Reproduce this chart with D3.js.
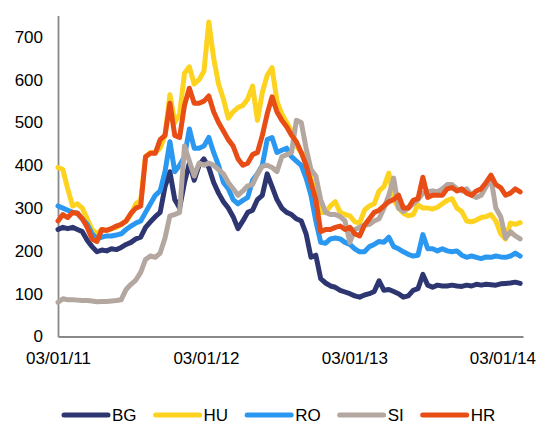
<!DOCTYPE html>
<html>
<head>
<meta charset="utf-8">
<script src="https://cdn.jsdelivr.net/npm/d3@7"></script>
<style>
  body { margin: 0; background: #fff; }
  svg { display: block; font-family: "Liberation Sans", Arial, sans-serif; }
</style>
</head>
<body>
<div id="chart"></div>
<script>
// series names + colours
const seriesNames = ["BG", "HU", "RO", "SI", "HR"];
const seriesColors = ["#2e3672", "#fdd320", "#2a97f1", "#b3a7a0", "#e84d16"];

// one reading every 12 days from 03/01/11
const startDate = new Date(2011, 0, 3);
const stepDays = 12;

const BG = [250,255,252,255,250,245,225,210,198,202,200,205,203,208,215,220,228,232,255,268,
  280,290,350,385,320,300,360,405,365,400,415,395,360,335,315,300,280,252,270,290,
  295,320,330,380,350,320,300,290,285,275,270,240,185,190,135,125,118,115,108,104,
  100,95,92,97,100,105,130,108,110,105,100,92,95,108,112,145,120,115,120,118,
  118,120,118,117,120,118,122,120,122,121,120,123,124,125,127,124];
const HU = [395,390,345,305,310,300,275,250,240,250,248,252,255,262,270,285,310,318,420,430,
  430,440,470,565,500,520,615,630,590,600,620,735,650,590,555,510,525,535,540,555,
  585,505,570,610,628,550,520,500,480,445,430,420,370,330,290,290,305,315,290,285,
  282,268,265,295,305,310,340,350,382,320,300,288,282,285,308,300,300,298,302,310,
  318,322,300,292,270,268,272,278,280,285,270,240,228,265,262,266];
const RO = [305,300,295,290,288,275,262,240,228,232,235,235,237,240,250,258,265,270,290,310,
  330,340,385,455,385,400,420,485,440,440,445,465,430,400,360,345,320,310,318,325,
  365,380,400,460,465,430,435,440,420,410,400,370,330,270,220,218,228,230,228,220,
  215,205,198,198,210,215,222,220,232,210,205,198,192,188,190,238,205,205,200,205,
  200,198,200,190,185,188,185,182,186,185,188,186,185,188,195,188];
const SI = [80,88,86,86,85,84,84,83,81,82,82,83,84,86,110,122,132,150,180,188,
  185,195,230,282,285,290,445,410,375,405,400,405,400,390,380,360,345,330,340,352,
  355,380,398,400,395,385,420,425,430,505,500,440,390,375,320,290,285,285,280,270,
  220,250,255,260,262,270,275,300,330,370,300,292,300,310,320,335,338,340,338,345,
  355,355,345,340,345,330,325,330,350,370,300,280,230,245,235,228];
const HR = [270,285,278,290,288,275,255,228,222,250,248,252,258,262,270,288,300,305,420,428,
  428,460,470,545,470,465,540,580,545,545,550,562,525,500,480,460,445,415,400,405,
  425,430,470,520,560,525,505,490,470,455,430,400,360,320,245,250,250,255,258,250,
  255,240,235,260,275,290,295,305,315,320,330,300,300,318,322,372,325,330,330,330,
  345,348,340,345,335,330,340,345,360,377,355,348,330,335,345,338];

const yTicks = [0, 100, 200, 300, 400, 500, 600, 700];
const xTicks = [new Date(2011, 0, 3), new Date(2012, 0, 3), new Date(2013, 0, 3), new Date(2014, 0, 3)];

function draw() {
  const width = 540, height = 428;
  const allValues = [BG, HU, RO, SI, HR];
  const dates = BG.map((v, i) => d3.timeDay.offset(startDate, i * stepDays));

  const svg = d3.select("#chart").append("svg")
    .attr("width", width)
    .attr("height", height);

  const x = d3.scaleTime()
    .domain([startDate, new Date(2014, 1, 23)])
    .range([58, 523]);
  const y = d3.scaleLinear()
    .domain([0, 750])
    .range([336.5, 15.5]);

  // y axis
  const yAxis = svg.append("g")
    .attr("transform", "translate(58,0)")
    .call(d3.axisLeft(y).tickValues(yTicks).tickSize(0).tickPadding(15));
  yAxis.select(".domain").attr("stroke", "#898989").attr("stroke-width", 1.8);
  yAxis.selectAll("text").attr("font-size", 17).attr("fill", "#000")
    .style("font-family", "'Liberation Sans', Arial, sans-serif");

  // x axis
  const xAxis = svg.append("g")
    .attr("transform", "translate(0,336.5)")
    .call(d3.axisBottom(x).tickValues(xTicks).tickFormat(d3.timeFormat("%d/%m/%y")).tickSize(0).tickPadding(15));
  xAxis.select(".domain").attr("stroke", "#898989").attr("stroke-width", 1.8);
  xAxis.selectAll("text").attr("font-size", 17).attr("fill", "#000")
    .style("font-family", "'Liberation Sans', Arial, sans-serif");

  const line = d3.line()
    .x((d, i) => x(dates[i]))
    .y(d => y(d));

  svg.append("g")
    .selectAll("path")
    .data(allValues)
    .join("path")
      .attr("d", d => line(d))
      .attr("fill", "none")
      .attr("stroke", (d, i) => seriesColors[i])
      .attr("stroke-width", 5)
      .attr("stroke-linejoin", "round")
      .attr("stroke-linecap", "round");

  // legend
  const legend = svg.append("g").attr("transform", "translate(0,415)");
  let lx = 64;
  seriesNames.forEach((name, i) => {
    legend.append("line")
      .attr("x1", lx).attr("x2", lx + 44)
      .attr("y1", 0).attr("y2", 0)
      .attr("stroke", seriesColors[i])
      .attr("stroke-width", 5)
      .attr("stroke-linecap", "round");
    const t = legend.append("text")
      .attr("x", lx + 48)
      .attr("y", 0)
      .attr("dy", "0.35em")
      .attr("font-size", 17)
      .attr("fill", "#000")
      .text(name);
    lx += 48 + t.node().getComputedTextLength() + 19;
  });
}
draw();
</script>
</body>
</html>
